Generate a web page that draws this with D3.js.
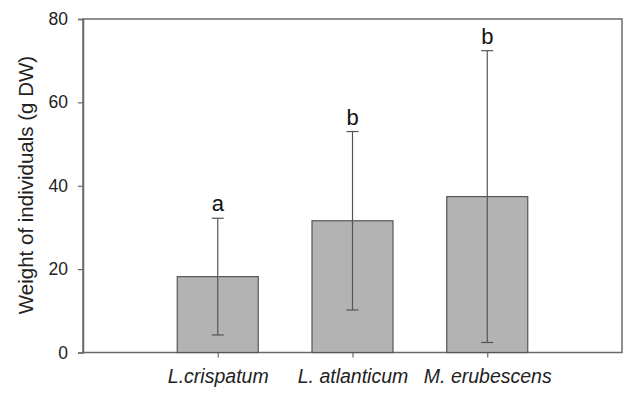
<!DOCTYPE html>
<html>
<head>
<meta charset="utf-8">
<script src="https://cdn.jsdelivr.net/npm/d3@7"></script>
<style>
  body { margin: 0; background: #fff; }
  svg { font-family: Arial, "Liberation Sans", sans-serif; }
</style>
</head>
<body>
<svg id="chart" width="625" height="394"></svg>
<script>
const species = ['L.crispatum', 'L. atlanticum', 'M. erubescens'];
const means = [18.2, 31.6, 37.4];
const errors = [14.0, 21.4, 35.0];
const letters = ['a', 'b', 'b'];
const yTicks = [0, 20, 40, 60, 80];

const plotLeft = 83, plotRight = 622, plotTop = 19, plotBottom = 352.5;
const svg = d3.select('#chart');

// categories sit at 1,2,3 on a 0..4 axis
const x = d3.scaleLinear().domain([0, 4]).range([plotLeft, plotRight]);
const y = d3.scaleLinear().domain([0, 80]).range([plotBottom, plotTop]);
const barW = 81;
const frameCol = '#6a6a6a';

// frame
svg.append('rect')
  .attr('x', plotLeft).attr('y', plotTop)
  .attr('width', plotRight - plotLeft).attr('height', plotBottom - plotTop)
  .attr('fill', 'none').attr('stroke', frameCol).attr('stroke-width', 1.5);

// y axis
const yAxis = svg.append('g')
  .attr('transform', `translate(${plotLeft},0)`)
  .call(d3.axisLeft(y).tickValues(yTicks).tickSize(5).tickPadding(10));
yAxis.select('.domain').attr('stroke', frameCol).attr('stroke-width', 1.5);
yAxis.selectAll('.tick line').attr('stroke', frameCol).attr('stroke-width', 1.2);
yAxis.selectAll('.tick text').attr('font-size', 17.5).attr('fill', '#222');

// x axis
const xAxis = svg.append('g')
  .attr('transform', `translate(0,${plotBottom})`)
  .call(d3.axisBottom(x).tickValues([1, 2, 3]).tickSize(5).tickPadding(12)
    .tickFormat(d => species[d - 1]));
xAxis.select('.domain').remove();
xAxis.selectAll('.tick line').attr('stroke', frameCol).attr('stroke-width', 1.2);
xAxis.selectAll('.tick text')
  .attr('font-size', 19.5).attr('font-style', 'italic').attr('fill', '#222');

// bars
svg.append('g').selectAll('rect')
  .data(means)
  .join('rect')
  .attr('x', (d, i) => x(i + 1) - barW / 2)
  .attr('y', d => y(d))
  .attr('width', barW)
  .attr('height', d => y(0) - y(d))
  .attr('fill', '#b3b3b3')
  .attr('stroke', '#555').attr('stroke-width', 1.2);

// error bars
const eb = svg.append('g').selectAll('g')
  .data(means)
  .join('g')
  .attr('stroke', '#555').attr('stroke-width', 1.2);
eb.append('line')
  .attr('x1', (d, i) => x(i + 1)).attr('x2', (d, i) => x(i + 1))
  .attr('y1', (d, i) => y(d + errors[i])).attr('y2', (d, i) => y(d - errors[i]));
eb.append('line')
  .attr('x1', (d, i) => x(i + 1) - 6).attr('x2', (d, i) => x(i + 1) + 6)
  .attr('y1', (d, i) => y(d + errors[i])).attr('y2', (d, i) => y(d + errors[i]));
eb.append('line')
  .attr('x1', (d, i) => x(i + 1) - 6).attr('x2', (d, i) => x(i + 1) + 6)
  .attr('y1', (d, i) => y(d - errors[i])).attr('y2', (d, i) => y(d - errors[i]));

// significance letters
svg.append('g').selectAll('text')
  .data(letters)
  .join('text')
  .attr('x', (d, i) => x(i + 1))
  .attr('y', (d, i) => y(means[i] + errors[i]) - 7)
  .attr('text-anchor', 'middle')
  .attr('font-size', 22).attr('fill', '#111')
  .text(d => d);

// y label
svg.append('text')
  .attr('transform', 'translate(33,185) rotate(-90)')
  .attr('text-anchor', 'middle')
  .attr('font-size', 20.5).attr('fill', '#222')
  .text('Weight of individuals (g DW)');
</script>
</body>
</html>
